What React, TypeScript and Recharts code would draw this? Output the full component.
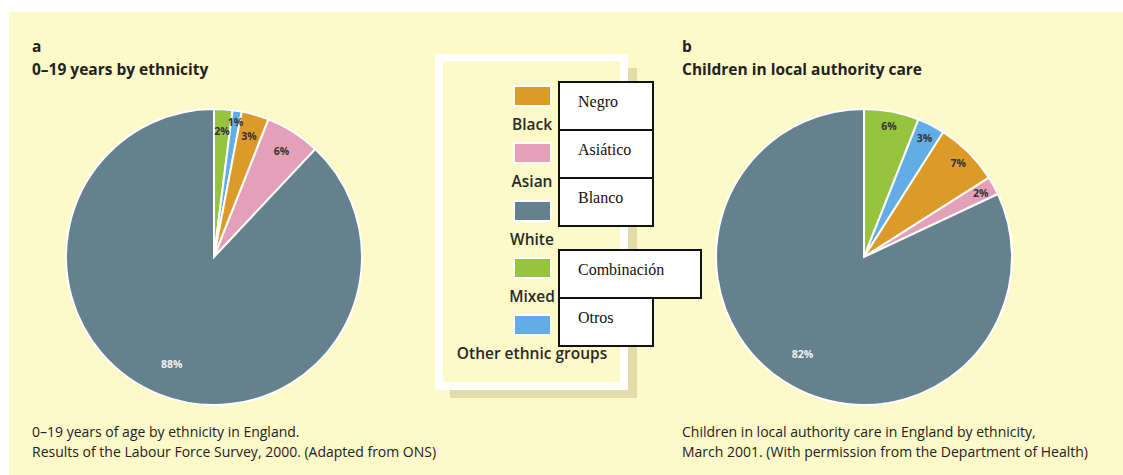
import React from "react";
import { PieChart, Pie, Cell } from "recharts";

// legend order
const categories = ["Black", "Asian", "White", "Mixed", "Other ethnic groups"];
const translations = ["Negro", "Asiático", "Blanco", "Combinación", "Otros"];
// % share per category, same order as categories
const youthShares = [3, 6, 88, 2, 1];
const careShares = [7, 2, 82, 6, 3];
// order slices are drawn clockwise from 12 o'clock
const sliceOrder = ["Mixed", "Other ethnic groups", "Black", "Asian", "White"];

const palette: Record<string, string> = {
  Black: "#dc9a28",
  Asian: "#e3a0b8",
  White: "#66818e",
  Mixed: "#96c43d",
  "Other ethnic groups": "#63ade6",
};

const BG = "#fdf9c8";
const SANS = "'Open Sans', 'DejaVu Sans', sans-serif";
const RAD = Math.PI / 180;

// overlay box layout (translation stickers)
const stickerTops = [81, 129, 177, 249, 297];
const stickerWidths = [96, 96, 96, 144, 96];

function buildSlices(shares: number[]) {
  return sliceOrder.map((name) => ({
    name,
    value: shares[categories.indexOf(name)],
  }));
}

function makeLabel(smallRatio: number) {
  return (props: any) => {
    const { cx, cy, midAngle, outerRadius, percent, value } = props;
    let ratio = smallRatio;
    if (percent > 0.5) ratio = 0.775;
    else if (percent < 0.015) ratio = 0.925;
    const r = outerRadius * ratio;
    const x = cx + r * Math.cos(-midAngle * RAD);
    const y = cy + r * Math.sin(-midAngle * RAD);
    return (
      <text
        x={x}
        y={y}
        textAnchor="middle"
        dominantBaseline="central"
        fontFamily={SANS}
        fontSize={10.5}
        fontWeight={700}
        fill={percent > 0.5 ? "#eef2f3" : "#333"}
      >
        {`${value}%`}
      </text>
    );
  };
}

function PiePanel({
  left,
  shares,
  smallRatio,
}: {
  left: number;
  shares: number[];
  smallRatio: number;
}) {
  const slices = buildSlices(shares);
  return (
    <div style={{ position: "absolute", left, top: 97, width: 320, height: 320 }}>
      <PieChart width={320} height={320} margin={{ top: 0, right: 0, bottom: 0, left: 0 }}>
        <Pie
          data={slices}
          dataKey="value"
          nameKey="name"
          cx={160}
          cy={160}
          outerRadius={148}
          startAngle={90}
          endAngle={-270}
          stroke="#ffffff"
          strokeWidth={2}
          label={makeLabel(smallRatio)}
          labelLine={false}
          isAnimationActive={false}
        >
          {slices.map((s) => (
            <Cell key={s.name} fill={palette[s.name]} />
          ))}
        </Pie>
      </PieChart>
    </div>
  );
}

const titleStyle: React.CSSProperties = {
  position: "absolute",
  top: 35,
  fontFamily: SANS,
  fontSize: 15.5,
  fontWeight: 700,
  lineHeight: "23px",
  color: "#222",
  whiteSpace: "nowrap",
};

const noteStyle: React.CSSProperties = {
  position: "absolute",
  top: 422,
  fontFamily: SANS,
  fontSize: 14,
  lineHeight: "20px",
  color: "#222",
  whiteSpace: "nowrap",
};

export default function App() {
  return (
    <div
      style={{
        position: "absolute",
        left: 0,
        top: 0,
        width: 1123,
        height: 475,
        background: "#fff",
        overflow: "hidden",
      }}
    >
      <div style={{ position: "absolute", left: 9, top: 12, right: 0, bottom: 0, background: BG }} />

      <div style={{ ...titleStyle, left: 32 }}>
        a<br />0–19 years by ethnicity
      </div>
      <div style={{ ...titleStyle, left: 682 }}>
        b<br />Children in local authority care
      </div>

      <PiePanel left={54} shares={youthShares} smallRatio={0.85} />
      <PiePanel left={704} shares={careShares} smallRatio={0.9} />

      <div style={{ ...noteStyle, left: 32 }}>
        0–19 years of age by ethnicity in England.
        <br />
        Results of the Labour Force Survey, 2000. (Adapted from ONS)
      </div>
      <div style={{ ...noteStyle, left: 682 }}>
        Children in local authority care in England by ethnicity,
        <br />
        March 2001. (With permission from the Department of Health)
      </div>

      {/* legend frame */}
      <div style={{ position: "absolute", left: 450, top: 68, width: 187, height: 330, background: "#e2dca9" }} />
      <div
        style={{
          position: "absolute",
          left: 435,
          top: 54,
          width: 193,
          height: 336,
          boxSizing: "border-box",
          border: "8px solid #fff",
          borderTopWidth: 7,
          background: BG,
        }}
      />
      {categories.map((c, i) => {
        const top = 85 + 57.25 * i;
        return (
          <React.Fragment key={c}>
            <div
              style={{
                position: "absolute",
                left: 513,
                top,
                width: 39,
                height: 22,
                boxSizing: "border-box",
                border: "2px solid #fff",
                background: palette[c],
              }}
            />
            <div
              style={{
                position: "absolute",
                left: 432,
                width: 200,
                top: top + 29,
                textAlign: "center",
                fontFamily: SANS,
                fontSize: 15.5,
                fontWeight: 600,
                lineHeight: "20px",
                color: "#2a2a2a",
                whiteSpace: "nowrap",
              }}
            >
              {c}
            </div>
          </React.Fragment>
        );
      })}

      {translations.map((t, i) => (
        <div
          key={t}
          style={{
            position: "absolute",
            left: 558,
            top: stickerTops[i],
            width: stickerWidths[i],
            height: 50,
            boxSizing: "border-box",
            border: "2px solid #111",
            background: "#fff",
            paddingLeft: 18,
            paddingTop: 10,
            fontFamily: "'Liberation Serif', 'Times New Roman', serif",
            fontSize: 16,
            lineHeight: "17px",
            color: "#111",
            whiteSpace: "nowrap",
          }}
        >
          {t}
        </div>
      ))}
    </div>
  );
}
